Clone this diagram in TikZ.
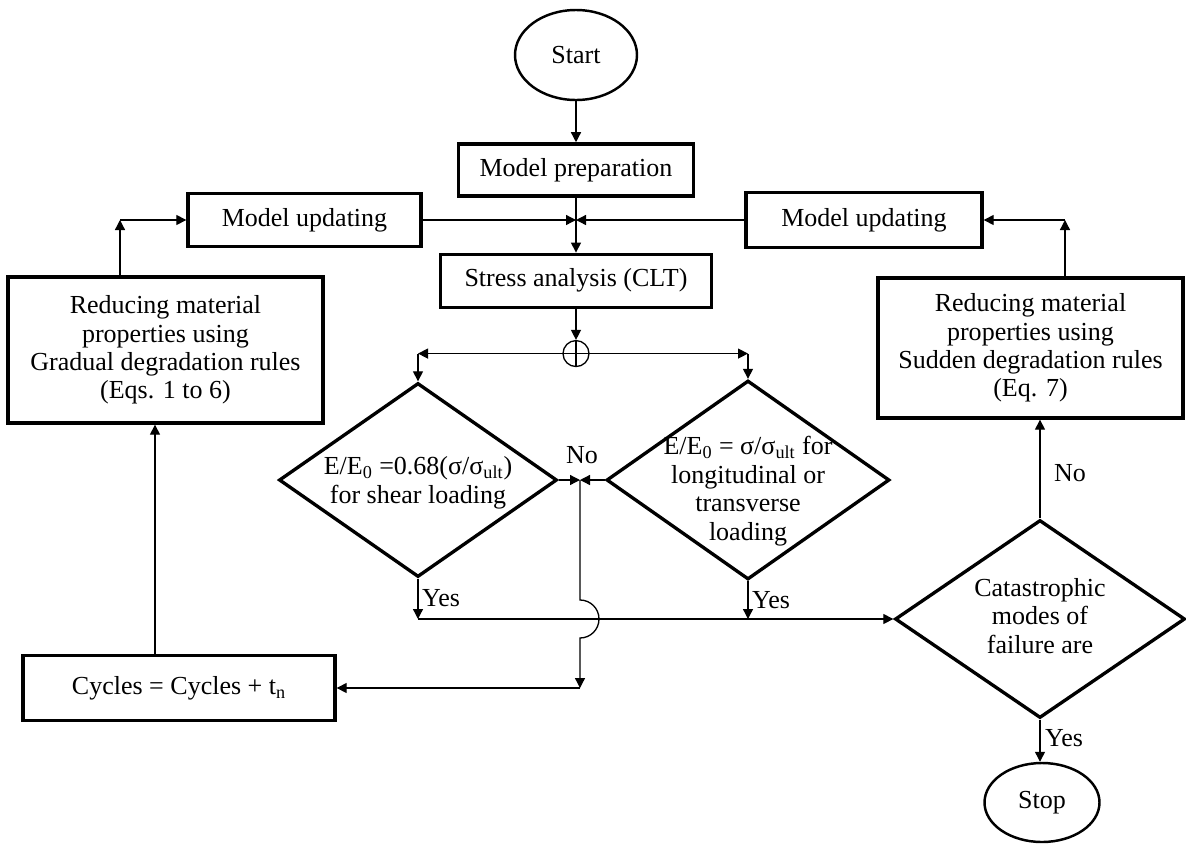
\documentclass[tikz,border=0pt]{standalone}
\usepackage{fontspec}
\setmainfont{Liberation Serif}
\usepackage{tikz}
\usetikzlibrary{arrows.meta,positioning,shapes.geometric}

\begin{document}
\begin{tikzpicture}[
  font=\fontsize{14.8}{16.2}\selectfont,
  box/.style={draw,line width=1.9pt,align=center,inner sep=2pt},
  term/.style={ellipse,draw,line width=1.4pt},
  dec/.style={diamond,draw,line width=1.9pt,inner sep=0pt},
  txt/.style={align=center,inner sep=0pt},
  arr/.style={-{Triangle[length=2mm,width=2mm]},line width=0.75pt}]
  \useasboundingbox (0,0) rectangle (23.72,-16.88);
  \node[term,minimum width=2.44cm,minimum height=1.8cm] (start) at (11.52,-1.1) {Start};
  \node[box,minimum width=4.7cm,minimum height=1.04cm,below=0.82cm of start] (prep) {Model preparation};
  \node[box,minimum width=5.42cm,minimum height=1.06cm,below=1.1cm of prep] (stress) {Stress analysis (CLT)};
  \node[box,minimum width=4.66cm,minimum height=1.06cm] (updL) at (6.09,-4.4) {Model updating};
  \node[box,minimum width=4.72cm,minimum height=1.1cm] (updR) at (17.28,-4.4) {Model updating};
  \coordinate (jtop) at (prep.south |- updL);
  \node[circle,draw,line width=0.75pt,minimum size=0.52cm,inner sep=0pt,below=0.62cm of stress] (split) {};
  \node[dec,minimum width=5.56cm,minimum height=3.88cm] (shear) at (8.36,-9.6) {};
  \node[dec,minimum width=5.66cm,minimum height=3.98cm] (axial) at (14.96,-9.6) {};
  \node[txt] (sheartxt) at (8.36,-9.66)
    {E/E\textsubscript{0} =0.68(σ/σ\textsubscript{ult})\\for shear loading};
  \node[txt] (axialtxt) at (14.96,-9.82)
    {E/E\textsubscript{0} = σ/σ\textsubscript{ult} for\\longitudinal or\\transverse\\loading};
  \node[box,minimum width=6.3cm,minimum height=2.92cm] (grad) at (3.31,-7.0)
    {Reducing material\\properties using\\Gradual degradation rules\\(Eqs. 1 to 6)};
  \node[box,minimum width=6.1cm,minimum height=2.8cm] (sudd) at (20.61,-6.96)
    {Reducing material\\properties using\\Sudden degradation rules\\(Eq. 7)};
  \node[box,minimum width=6.24cm,minimum height=1.3cm] (cycles) at (3.58,-13.76)
    {Cycles = Cycles + t\textsubscript{n}};
  \node[dec,minimum width=5.8cm,minimum height=3.96cm] (cat) at (20.8,-12.38) {};
  \node[txt] (cattxt) at (20.8,-12.32) {Catastrophic\\modes of\\failure are};
  \node[term,minimum width=2.3cm,minimum height=1.58cm] (stop) at (20.84,-16.05) {Stop};
  \coordinate (brL) at (split -| shear);
  \coordinate (brR) at (split -| axial);
  \coordinate (jno) at (11.6,-9.6);
  \coordinate (yesL) at (8.36,-12.38);
  \coordinate (yesR) at (14.96,-12.38);
  \coordinate (cnB) at (11.6,-13.76);
  \coordinate (lx) at (3.1,0);
  \coordinate (cnL) at (2.4,-4.4);
  \coordinate (cnR) at (21.3,-4.4);
  \draw[arr] (start) -- (prep);
  \draw[arr] (prep) -- (stress);
  \draw[arr] (updL) -- (jtop);
  \draw[arr] (updR) -- (jtop);
  \draw[arr] (stress) -- (split);
  \draw[line width=0.75pt] (split.north) -- (split.south) (split.west) -- (split.east);
  \foreach \a/\b in {split/brL,split/brR,brL/shear,brR/axial}
     \draw[arr] (\a) -- (\b);
  \draw[arr] (shear.east) -- (jno);
  \draw[arr] (axial.west) -- (jno);
  \node (no1) at (11.64,-9.1) {No};
  \draw[arr] (shear) -- (yesL);
  \draw[arr] (axial) -- (yesR);
  \draw[arr] (yesL) -- (cat);
  \node[anchor=west,inner sep=1pt] (yes1) at (8.4,-11.96) {Yes};
  \node[anchor=west,inner sep=1pt] (yes2) at (15.0,-12.0) {Yes};
  \draw[arr] (jno) -- (11.6,-12.0) arc[start angle=90,end angle=-90,radius=0.38cm] -- (cnB);
  \draw[arr] (cnB) -- (cycles);
  \draw[arr] (cycles.north -| lx) -- (grad.south -| lx);
  \draw[arr] (grad.north -| cnL) -- (cnL);
  \draw[arr] (cnL) -- (updL);
  \draw[arr] (sudd.north -| cnR) -- (cnR);
  \draw[arr] (cnR) -- (updR);
  \draw[arr] (cat) -- (cat |- sudd.south);
  \node (no2) at (21.4,-9.46) {No};
  \draw[arr] (cat) -- (cat |- stop.north);
  \node[anchor=west,inner sep=1pt] (yes3) at (20.86,-14.76) {Yes};
\end{tikzpicture}
\end{document}
